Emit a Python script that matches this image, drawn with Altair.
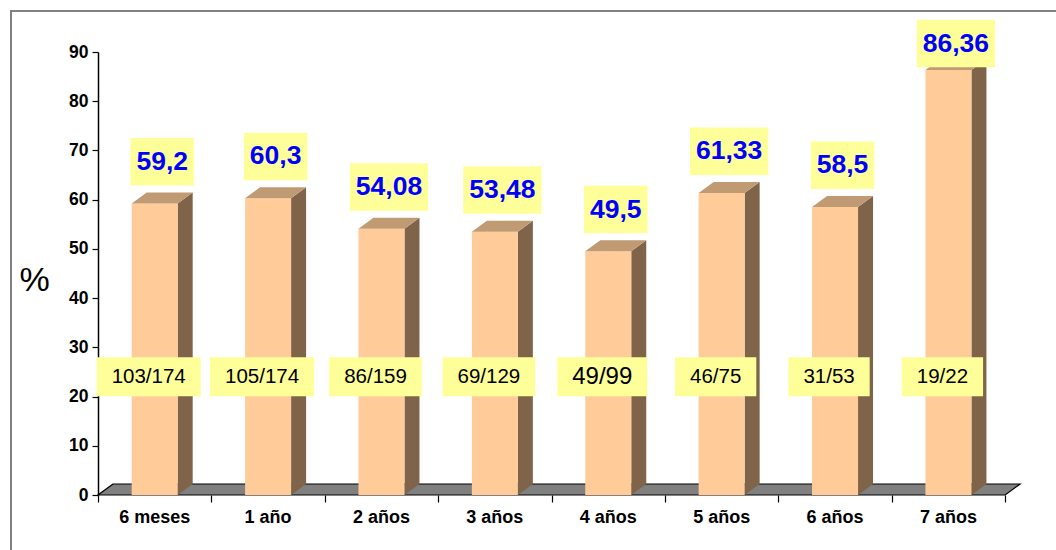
import altair as alt
import pandas as pd

categories = ["6 meses", "1 año", "2 años", "3 años", "4 años", "5 años", "6 años", "7 años"]
percent = [59.2, 60.3, 54.08, 53.48, 49.5, 61.33, 58.5, 86.36]
percent_labels = ["59,2", "60,3", "54,08", "53,48", "49,5", "61,33", "58,5", "86,36"]
fractions = ["103/174", "105/174", "86/159", "69/129", "49/99", "46/75", "31/53", "19/22"]

# layout (pixels -> data units)
W, H = 923, 443
XMAX = 8.14
PX_X = W / XMAX
PX_Y = H / 90.0
HW = 23 / PX_X          # half bar width
DX = 15 / PX_X          # 3D depth, horizontal
DY = 11 / PX_Y          # 3D depth, vertical

FONT = "Liberation Sans"
FRONT = "#FFCC99"
SIDE = "#7F6449"
TOP = "#C09A73"
FLOOR = "#808080"
BOX = "#FFFF99"

df = pd.DataFrame({
    "cat": categories,
    "idx": list(range(len(categories))),
    "v": percent,
    "lab": percent_labels,
    "frac": fractions,
})

xs = alt.Scale(domain=[0, XMAX], nice=False, zero=False)
ys = alt.Scale(domain=[0, 90], nice=False, zero=False)

x_axis = alt.Axis(values=list(range(len(categories) + 1)), labels=False, domain=False,
                  ticks=True, tickSize=7, tickColor="black", tickWidth=1.2, grid=False, title=None)
y_axis = alt.Axis(values=list(range(0, 91, 10)), title="%", titleAngle=0, titleFontSize=34,
                  titleFontWeight="normal", titleX=-64, titleY=228, titleAlign="center",
                  titleBaseline="middle", titleColor="black", titleFont=FONT,
                  labelFontSize=17.5, labelFontWeight="bold", labelColor="black", labelFont=FONT,
                  labelPadding=4, tickSize=6, tickColor="black", tickWidth=1.2,
                  domainColor="black", domainWidth=1.5, grid=False)


def X(field, **kw):
    return alt.X(field, scale=xs, axis=x_axis, **kw)


def Y(field, **kw):
    return alt.Y(field, scale=ys, axis=y_axis, **kw)


base = alt.Chart(df)

# floor
floor = alt.Chart(pd.DataFrame({"k": [0, 1]})).transform_calculate(
    fy=f"datum.k*{DY}", fx=f"datum.k*{DX}", fx2=f"{len(categories)} + datum.k*{DX}"
).mark_area(orient="horizontal", fill=FLOOR, stroke="black", strokeWidth=1.2).encode(
    y=Y("fy:Q"),
    x=X("fx:Q", stack=None),
    x2="fx2:Q",
)

flat = base.transform_calculate(k="[0,1]").transform_flatten(["k"])

side = flat.transform_calculate(
    sx=f"datum.idx + 0.5 + {HW} + datum.k*{DX}",
    sy=f"datum.v + datum.k*{DY}",
    sy2=f"datum.k*{DY}",
).mark_area(orient="vertical", color=SIDE).encode(
    x=X("sx:Q"),
    y=Y("sy:Q", stack=None),
    y2="sy2:Q",
    detail="cat:N",
)

front = base.transform_calculate(
    bx=f"datum.idx + 0.5 - {HW}", bx2=f"datum.idx + 0.5 + {HW}"
).mark_rect(color=FRONT).encode(
    x=X("bx:Q"),
    x2="bx2:Q",
    y=Y("v:Q"),
    y2=alt.datum(0),
)

top = flat.transform_calculate(
    ty=f"datum.v + datum.k*{DY}",
    tx=f"datum.idx + 0.5 - {HW} + datum.k*{DX}",
    tx2=f"datum.idx + 0.5 + {HW} + datum.k*{DX}",
).mark_area(orient="horizontal", color=TOP).encode(
    y=Y("ty:Q"),
    x=X("tx:Q", stack=None),
    x2="tx2:Q",
    detail="cat:N",
)

# bottom fraction labels
frac_base = base.transform_calculate(
    fs="datum.frac == '49/99' ? 24 : 20.5",
).transform_calculate(
    hw=f"(datum.fs*(0.556*(length(datum.frac)-1)+0.278)+30)/2/{PX_X}",
    cx=f"datum.idx + 0.5 - {6/PX_X}",
    cy="24",
).transform_calculate(
    fx1="datum.cx - datum.hw", fx2="datum.cx + datum.hw",
    fy1=f"datum.cy - {19.5/PX_Y}", fy2=f"datum.cy + {19.5/PX_Y}",
)
frac_box = frac_base.mark_rect(color=BOX).encode(
    x=X("fx1:Q"), x2="fx2:Q",
    y=Y("fy1:Q"), y2="fy2:Q",
)
frac_text = frac_base.mark_text(font=FONT, color="black", baseline="middle", align="center").encode(
    x=X("cx:Q"),
    y=Y("cy:Q"),
    text="frac:N",
    size=alt.Size("fs:Q", scale=None, legend=None),
)

# top value labels
val_base = base.transform_calculate(
    hw=f"(26.5*(0.556*(length(datum.lab)-1)+0.278)+12)/2/{PX_X}",
    cx=f"datum.idx + 0.5 + {DX/2}",
    cy=f"min(datum.v + {41.75/PX_Y}, 90 + {8.5/PX_Y})",
).transform_calculate(
    vx1="datum.cx - datum.hw", vx2="datum.cx + datum.hw",
    vy1=f"datum.cy - {23.75/PX_Y}", vy2=f"datum.cy + {23.75/PX_Y}",
)
val_box = val_base.mark_rect(color=BOX).encode(
    x=X("vx1:Q"), x2="vx2:Q",
    y=Y("vy1:Q"), y2="vy2:Q",
)
val_text = val_base.mark_text(font=FONT, color="#0000FF", fontWeight="bold", fontSize=26.5,
                              baseline="middle", align="center").encode(
    x=X("cx:Q"),
    y=Y("cy:Q"),
    text="lab:N",
)

# category labels
cat_text = base.transform_calculate(cx="datum.idx + 0.5").mark_text(
    font=FONT, color="black", fontWeight="bold", fontSize=18, baseline="middle", align="center"
).encode(
    x=X("cx:Q"),
    y=alt.value(H + 23),
    text="cat:N",
)

# outer frame
frame = alt.Chart(pd.DataFrame({"f": [1]})).mark_rect(
    fill="white", fillOpacity=0, stroke="#808080", strokeWidth=2
).encode(
    x=alt.value(-87), x2=alt.value(W + 60), y=alt.value(-41), y2=alt.value(H + 80),
)

chart = alt.layer(
    floor, side, front, top, frac_box, frac_text, val_box, val_text, cat_text, frame
).properties(
    width=W, height=H,
    autosize=alt.AutoSizeParams(type="none"),
    padding={"left": 98, "top": 52, "right": 35, "bottom": 55},
).configure(font=FONT, background="white").configure_view(stroke=None, strokeWidth=0)

chart.save("out.html", embed_options={"renderer": "svg", "actions": False})
